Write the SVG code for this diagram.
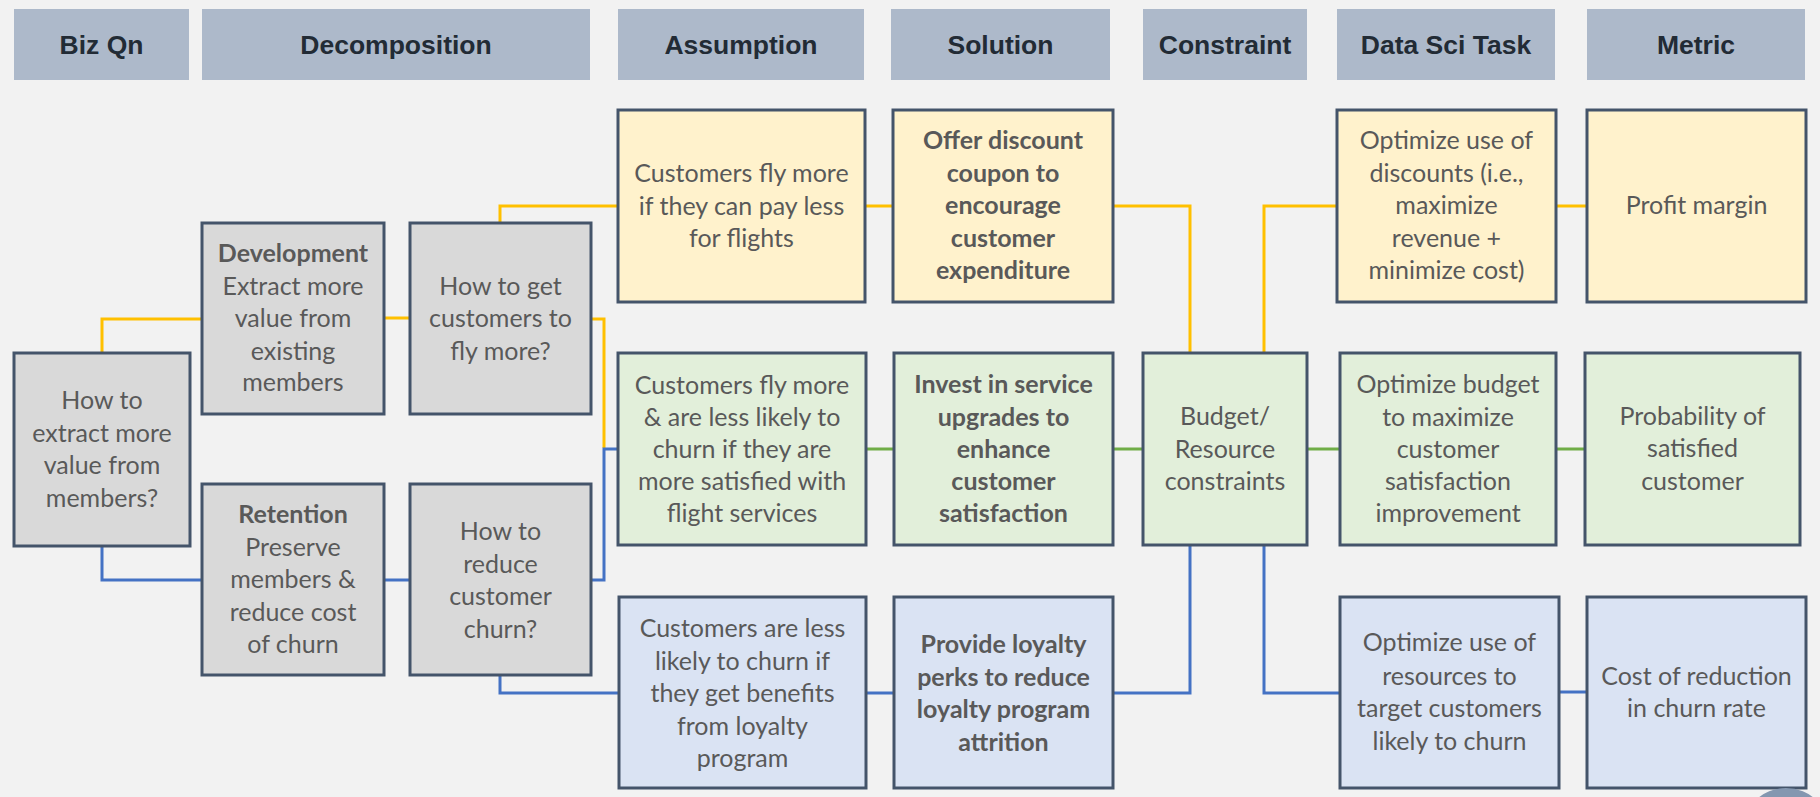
<svg xmlns="http://www.w3.org/2000/svg" width="1820" height="797" viewBox="0 0 1820 797">
<style>
.bg{fill:#F2F2F2}
.hdr rect{fill:#ADB9CA}
.hdr text{font-family:"Liberation Sans",Arial,sans-serif;font-weight:bold;font-size:26.5px;fill:#222B35;text-anchor:middle}
.box{stroke:#44546A;stroke-width:3}
.gray{fill:#D9D9D9}.yel{fill:#FFF2CC}.grn{fill:#E2EFDA}.blu{fill:#DAE3F3}
.t{font-family:Lato,"Open Sans",sans-serif;font-size:25px;fill:#595959;text-anchor:middle}
.b{font-weight:bold}
.cy,.cg,.cb{fill:none;stroke-width:3}
.cy{stroke:#FFC000}.cg{stroke:#70AD47}.cb{stroke:#4472C4}
</style>
<rect class="bg" x="0" y="0" width="1820" height="797"/>
<g id="headers" class="hdr">
<rect x="14" y="9" width="175" height="71"/><text x="101.5" y="54">Biz Qn</text>
<rect x="202" y="9" width="388" height="71"/><text x="396" y="54">Decomposition</text>
<rect x="618" y="9" width="246" height="71"/><text x="741" y="54">Assumption</text>
<rect x="891" y="9" width="219" height="71"/><text x="1000.5" y="54">Solution</text>
<rect x="1143" y="9" width="164" height="71"/><text x="1225" y="54">Constraint</text>
<rect x="1337" y="9" width="218" height="71"/><text x="1446" y="54">Data Sci Task</text>
<rect x="1587" y="9" width="218" height="71"/><text x="1696" y="54">Metric</text>
</g>
<g id="connectors">
<path class="cy" d="M102,353 V319 H202"/>
<path class="cy" d="M384,318 H410"/>
<path class="cy" d="M500,223 V206 H618"/>
<path class="cy" d="M591,319 H604 V448"/>
<path class="cy" d="M865,206 H893"/>
<path class="cy" d="M1113,206 H1190 V353"/>
<path class="cy" d="M1264,353 V206 H1337"/>
<path class="cy" d="M1556,206 H1587"/>
<path class="cg" d="M866,449 H894"/>
<path class="cg" d="M1113,449 H1143"/>
<path class="cg" d="M1307,449 H1340"/>
<path class="cg" d="M1556,449 H1585"/>
<path class="cb" d="M102,546 V580 H202"/>
<path class="cb" d="M384,580 H410"/>
<path class="cb" d="M591,580 H604 V449 H618"/>
<path class="cb" d="M500,675 V693 H619"/>
<path class="cb" d="M866,693 H894"/>
<path class="cb" d="M1113,693 H1190 V545"/>
<path class="cb" d="M1264,545 V693 H1340"/>
<path class="cb" d="M1559,692 H1587"/>
</g>
<g id="bizqn">
<rect class="box gray" x="14" y="353" width="176" height="193"/>
<text class="t"><tspan x="102" y="409">How to</tspan><tspan x="102" y="441.5">extract more</tspan><tspan x="102" y="474">value from</tspan><tspan x="102" y="506.5">members?</tspan></text>
</g>
<g id="development">
<rect class="box gray" x="202" y="223" width="182" height="191"/>
<text class="t"><tspan class="b" x="293" y="262">Development</tspan><tspan x="293" y="295">Extract more</tspan><tspan x="293" y="327">value from</tspan><tspan x="293" y="360">existing</tspan><tspan x="293" y="391">members</tspan></text>
</g>
<g id="fly-more">
<rect class="box gray" x="410" y="223" width="181" height="191"/>
<text class="t"><tspan x="500.5" y="295">How to get</tspan><tspan x="500.5" y="327">customers to</tspan><tspan x="500.5" y="360">fly more?</tspan></text>
</g>
<g id="retention">
<rect class="box gray" x="202" y="484" width="182" height="191"/>
<text class="t"><tspan class="b" x="293" y="523">Retention</tspan><tspan x="293" y="556">Preserve</tspan><tspan x="293" y="588">members &amp;</tspan><tspan x="293" y="621">reduce cost</tspan><tspan x="293" y="653">of churn</tspan></text>
</g>
<g id="reduce-churn">
<rect class="box gray" x="410" y="484" width="181" height="191"/>
<text class="t"><tspan x="500.5" y="540">How to</tspan><tspan x="500.5" y="573">reduce</tspan><tspan x="500.5" y="605">customer</tspan><tspan x="500.5" y="638">churn?</tspan></text>
</g>
<g id="assump-discount">
<rect class="box yel" x="618" y="110" width="247" height="192"/>
<text class="t"><tspan x="741.5" y="182">Customers fly more</tspan><tspan x="741.5" y="215">if they can pay less</tspan><tspan x="741.5" y="247">for flights</tspan></text>
</g>
<g id="assump-service">
<rect class="box grn" x="618" y="353" width="248" height="192"/>
<text class="t"><tspan x="742" y="394">Customers fly more</tspan><tspan x="742" y="426">&amp; are less likely to</tspan><tspan x="742" y="458">churn if they are</tspan><tspan x="742" y="490">more satisfied with</tspan><tspan x="742" y="522">flight services</tspan></text>
</g>
<g id="assump-loyalty">
<rect class="box blu" x="619" y="597" width="247" height="191"/>
<text class="t"><tspan x="742.5" y="637">Customers are less</tspan><tspan x="742.5" y="670">likely to churn if</tspan><tspan x="742.5" y="702">they get benefits</tspan><tspan x="742.5" y="735">from loyalty</tspan><tspan x="742.5" y="767">program</tspan></text>
</g>
<g id="sol-discount">
<rect class="box yel" x="893" y="110" width="220" height="192"/>
<text class="t b"><tspan x="1003" y="149">Offer discount</tspan><tspan x="1003" y="182">coupon to</tspan><tspan x="1003" y="214">encourage</tspan><tspan x="1003" y="247">customer</tspan><tspan x="1003" y="279">expenditure</tspan></text>
</g>
<g id="sol-service">
<rect class="box grn" x="894" y="353" width="219" height="192"/>
<text class="t b"><tspan x="1003.5" y="393">Invest in service</tspan><tspan x="1003.5" y="426">upgrades to</tspan><tspan x="1003.5" y="458">enhance</tspan><tspan x="1003.5" y="490">customer</tspan><tspan x="1003.5" y="522">satisfaction</tspan></text>
</g>
<g id="sol-loyalty">
<rect class="box blu" x="894" y="597" width="219" height="191"/>
<text class="t b"><tspan x="1003.5" y="653">Provide loyalty</tspan><tspan x="1003.5" y="686">perks to reduce</tspan><tspan x="1003.5" y="718">loyalty program</tspan><tspan x="1003.5" y="751">attrition</tspan></text>
</g>
<g id="constraint">
<rect class="box grn" x="1143" y="353" width="164" height="192"/>
<text class="t"><tspan x="1225" y="425">Budget/</tspan><tspan x="1225" y="458">Resource</tspan><tspan x="1225" y="490">constraints</tspan></text>
</g>
<g id="task-discount">
<rect class="box yel" x="1337" y="110" width="219" height="192"/>
<text class="t"><tspan x="1446.5" y="149">Optimize use of</tspan><tspan x="1446.5" y="182">discounts (i.e.,</tspan><tspan x="1446.5" y="214">maximize</tspan><tspan x="1446.5" y="247">revenue +</tspan><tspan x="1446.5" y="279">minimize cost)</tspan></text>
</g>
<g id="task-budget">
<rect class="box grn" x="1340" y="353" width="216" height="192"/>
<text class="t"><tspan x="1448" y="393">Optimize budget</tspan><tspan x="1448" y="426">to maximize</tspan><tspan x="1448" y="458">customer</tspan><tspan x="1448" y="490">satisfaction</tspan><tspan x="1448" y="522">improvement</tspan></text>
</g>
<g id="task-resources">
<rect class="box blu" x="1340" y="597" width="219" height="191"/>
<text class="t"><tspan x="1449.5" y="651">Optimize use of</tspan><tspan x="1449.5" y="685">resources to</tspan><tspan x="1449.5" y="717">target customers</tspan><tspan x="1449.5" y="750">likely to churn</tspan></text>
</g>
<g id="metric-profit">
<rect class="box yel" x="1587" y="110" width="219" height="192"/>
<text class="t"><tspan x="1696.5" y="214">Profit margin</tspan></text>
</g>
<g id="metric-satisfied">
<rect class="box grn" x="1585" y="353" width="215" height="192"/>
<text class="t"><tspan x="1692.5" y="425">Probability of</tspan><tspan x="1692.5" y="457">satisfied</tspan><tspan x="1692.5" y="490">customer</tspan></text>
</g>
<g id="metric-churn">
<rect class="box blu" x="1587" y="597" width="219" height="191"/>
<text class="t"><tspan x="1696.5" y="685">Cost of reduction</tspan><tspan x="1696.5" y="717">in churn rate</tspan></text>
</g>
<circle cx="1786" cy="832" r="44" fill="#8497B0"/>
</svg>
